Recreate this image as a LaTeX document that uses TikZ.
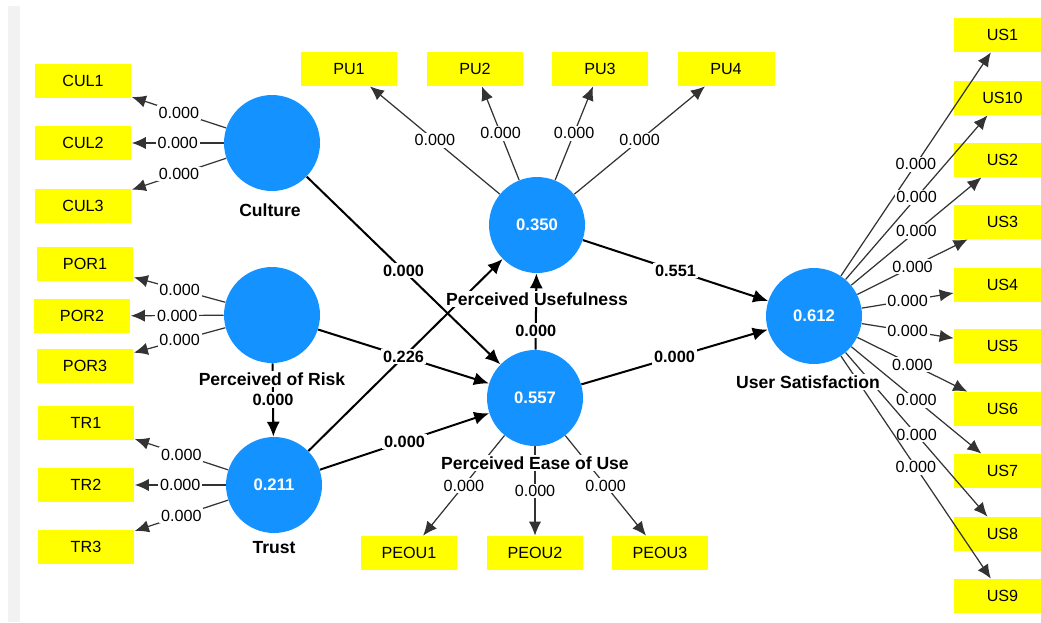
\documentclass[tikz,border=0pt]{standalone}
\usepackage{fontspec}
\setmainfont{Liberation Sans}
\usetikzlibrary{arrows.meta}

\definecolor{lvblue}{RGB}{20,146,255}
\definecolor{mvyellow}{RGB}{255,255,0}
\definecolor{sidebar}{RGB}{242,242,242}

\begin{document}
\begin{tikzpicture}[x=0.02cm,y=-0.02cm,
  lv/.style={circle,fill=lvblue,minimum size=1.92cm,inner sep=0pt,text=white,font=\fontsize{9.5}{11}\selectfont\bfseries},
  mv/.style={fill=mvyellow,minimum width=1.94cm,minimum height=0.68cm,inner sep=0pt,font=\fontsize{9.2}{11}\selectfont},
  lvname/.style={fill=white,inner sep=1pt,font=\fontsize{10}{12}\selectfont\bfseries},
  loading/.style={draw=black!80,line width=0.7pt,-{Latex[length=8pt,width=7pt]}},
  struct/.style={draw=black,line width=1.15pt,-{Latex[length=8.5pt,width=7.5pt]}},
  wt/.style={fill=white,inner sep=1pt,font=\fontsize{9.2}{11}\selectfont},
  bwt/.style={fill=white,inner sep=1pt,font=\fontsize{9.3}{11}\selectfont\bfseries}]

  \useasboundingbox (0,0) rectangle (1041,622);
  \fill[sidebar] (8,6) rectangle (20,622);

  % constructs
  \node[lv] (cul) at (272,143) {};
  \node[lv] (por) at (272,315) {};
  \node[lv] (tr) at (274,485) {0.211};
  \node[lv] (pu) at (537,225) {0.350};
  \node[lv] (peou) at (535,398) {0.557};
  \node[lv] (us) at (814,316) {0.612};

  % indicators
  \foreach \n/\x/\y in {1/83/81,2/83/143,3/83/206}
    \node[mv] (cul\n) at (\x,\y) {CUL\n};
  \foreach \n/\x/\y in {1/85/264,2/82/316,3/85/366}
    \node[mv] (por\n) at (\x,\y) {POR\n};
  \foreach \n/\x/\y in {1/86/423,2/86/485,3/86/547}
    \node[mv] (tr\n) at (\x,\y) {TR\n};
  \foreach \n/\x in {1/349,2/475,3/600,4/726}
    \node[mv] (pu\n) at (\x,69) {PU\n};
  \foreach \n/\x in {1/409,2/535,3/660}
    \node[mv] (peou\n) at (\x,553) {PEOU\n};
  \foreach \n/\y in {1/35,10/98,2/160,3/222,4/285,5/346,6/409,7/471,8/534,9/596}
    \node[mv] (us\n) at (1002.5,\y) {US\n};

  % outer loadings
  \foreach \n in {1,2,3} {
    \draw[loading] (cul) -- (cul\n) node[wt,midway] {0.000};
    \draw[loading] (por) -- (por\n) node[wt,midway] {0.000};
    \draw[loading] (tr) -- (tr\n) node[wt,midway] {0.000};
    \draw[loading] (peou) -- (peou\n) node[wt,midway] {0.000};
  }
  \foreach \n in {1,...,4}
    \draw[loading] (pu) -- (pu\n) node[wt,midway] {0.000};
  \foreach \n in {1,...,10}
    \draw[loading] (us) -- (us\n) node[wt,midway] {0.000};

  % inner model
  \draw[struct] (tr) -- (pu);
  \draw[struct] (cul) -- (peou) node[bwt,midway] {0.000};
  \draw[struct] (por) -- (peou) node[bwt,midway] {0.226};
  \draw[struct] (tr) -- (peou) node[bwt,midway] {0.000};
  \draw[struct] (por) -- (tr) node[bwt,midway] {0.000};
  \draw[struct] (peou) -- (pu) node[bwt,pos=0.25] {0.000};
  \draw[struct] (pu) -- (us) node[bwt,midway] {0.551};
  \draw[struct] (peou) -- (us) node[bwt,midway] {0.000};

  % construct names
  \node[lvname] (culname) at (270,210) {Culture};
  \node[lvname] (porname) at (272,379) {Perceived of Risk};
  \node[lvname] (trname) at (274,548) {Trust};
  \node[lvname] (puname) at (537,299) {Perceived Usefulness};
  \node[lvname] (peouname) at (535,463) {Perceived Ease of Use};
  \node[lvname] (usname) at (808,382) {User Satisfaction};
\end{tikzpicture}
\end{document}
